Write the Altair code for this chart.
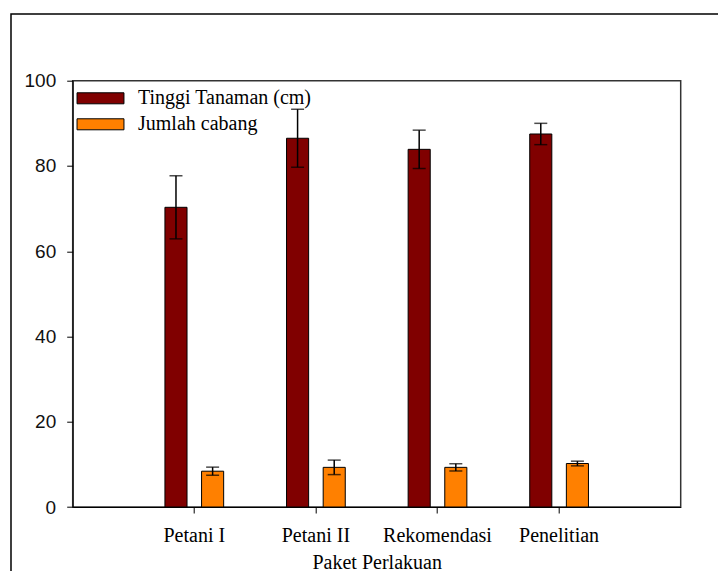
import altair as alt
import pandas as pd

categories = ["Petani I", "Petani II", "Rekomendasi", "Penelitian"]
series = ["Tinggi Tanaman (cm)", "Jumlah cabang"]
tinggi = [70.3, 86.5, 83.9, 87.5]
tinggi_err = [7.4, 6.8, 4.5, 2.5]
cabang = [8.4, 9.3, 9.3, 10.2]
cabang_err = [0.95, 1.7, 0.85, 0.55]
colors = ["#800000", "#FF8000"]
y_ticks = [0, 20, 40, 60, 80, 100]

rows = []
for i, c in enumerate(categories):
    rows.append(dict(cat=c, series=series[0], value=tinggi[i],
                     lo=tinggi[i] - tinggi_err[i], hi=tinggi[i] + tinggi_err[i]))
    rows.append(dict(cat=c, series=series[1], value=cabang[i],
                     lo=cabang[i] - cabang_err[i], hi=cabang[i] + cabang_err[i]))
df = pd.DataFrame(rows)

x = alt.X("cat:N", sort=categories,
          scale=alt.Scale(paddingInner=0, paddingOuter=0.5),
          axis=alt.Axis(title="Paket Perlakuan", labelAngle=0,
                        labelFont="Liberation Serif", labelFontSize=20,
                        labelColor="black", labelPadding=12, tickSize=6,
                        tickColor="black", domainColor="black",
                        titleFont="Liberation Serif", titleFontSize=20,
                        titleFontWeight="normal", titleColor="black",
                        titleY=61, titleBaseline="alphabetic"))
xo = alt.XOffset("series:N", sort=series,
                 scale=alt.Scale(paddingInner=0.397, paddingOuter=0.858))
y_scale = alt.Scale(domain=[0, 100], nice=False)

bars = alt.Chart(df).mark_bar(stroke="black", strokeWidth=1).encode(
    x=x, xOffset=xo,
    y=alt.Y("value:Q", scale=y_scale,
            axis=alt.Axis(values=y_ticks, title=None, grid=False,
                          labelFont="Liberation Sans", labelFontSize=19,
                          labelColor="#111", labelPadding=11, tickSize=6,
                          tickColor="black", domainColor="black")),
    color=alt.Color("series:N", sort=series,
                    scale=alt.Scale(domain=series, range=colors),
                    legend=alt.Legend(title=None, orient="none",
                                      legendX=17.8, legendY=7.6, padding=0,
                                      symbolType="M-2.47,-0.58H2.47V0.58H-2.47Z",
                                      symbolSize=361, symbolStrokeColor="black",
                                      symbolStrokeWidth=1,
                                      labelFont="Liberation Serif",
                                      labelFontSize=20, labelColor="black",
                                      labelLimit=400,
                                      labelOffset=27.5, rowPadding=6)),
)

err = alt.Chart(df).mark_rule(color="black", strokeWidth=1.5).encode(
    x=x, xOffset=xo, y=alt.Y("lo:Q", scale=y_scale), y2="hi:Q")
cap_hi = alt.Chart(df).mark_tick(color="black", thickness=1.5, size=13).encode(
    x=x, xOffset=xo, y=alt.Y("hi:Q", scale=y_scale))
cap_lo = alt.Chart(df).mark_tick(color="black", thickness=1.5, size=13).encode(
    x=x, xOffset=xo, y=alt.Y("lo:Q", scale=y_scale))

frame = alt.Chart(pd.DataFrame({"a": [0]})).mark_rect(
    fill=None, stroke="black", strokeWidth=1.5).encode(
    x=alt.value(-61.7), x2=alt.value(720), y=alt.value(-66.7), y2=alt.value(600))

chart = alt.layer(frame, bars, err, cap_hi, cap_lo).properties(
    width=608, height=426.3,
    autosize=alt.AutoSizeParams(type="none"),
    padding={"left": 64.7, "top": 72.7, "right": 37.3, "bottom": 64},
).configure_view(stroke="#333", strokeWidth=1.5).configure_axis(grid=False)

chart.save("out.html", embed_options={"renderer": "svg", "actions": False})
